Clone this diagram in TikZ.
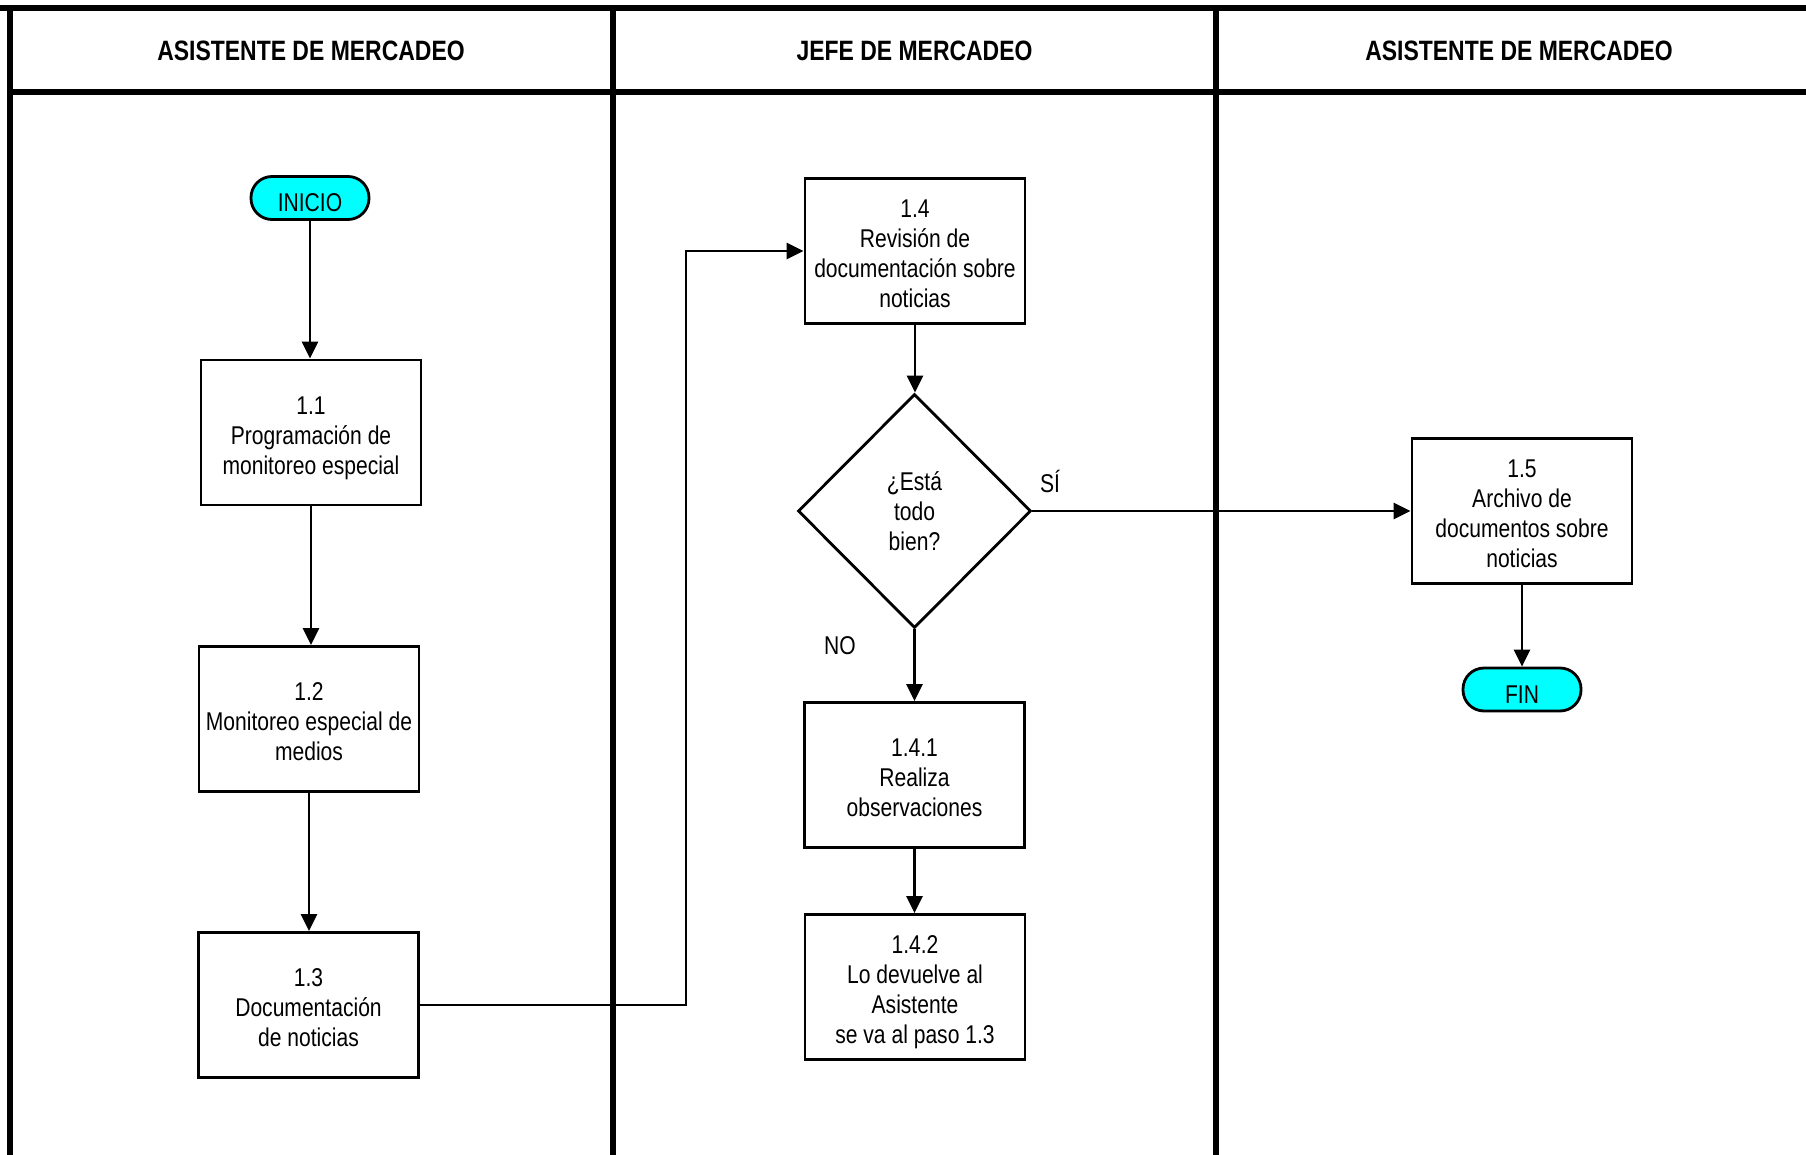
\documentclass[tikz,border=0pt]{standalone}
\usepackage{fontspec}
\setmainfont{Liberation Sans}[FakeStretch=0.82]
\usetikzlibrary{shapes.geometric,arrows.meta}
\definecolor{termfill}{RGB}{0,255,255}
% step text: centred lines with a little extra room above the first one
\newcommand\steptext[1]{\begin{tabular}{@{}c@{}}\rule{0pt}{32pt}#1\end{tabular}}

\begin{document}
\begin{tikzpicture}[x=1pt,y=-1pt,
  lane/.style={line width=6pt},
  head/.style={font=\fontsize{28}{32}\selectfont\bfseries},
  body/.style={font=\fontsize{25.7}{30}\selectfont},
  proc/.style={body, draw, line width=2.8pt, minimum width=220pt, minimum height=145pt, inner sep=2pt},
  term/.style={body, execute at begin node={\rule{0pt}{27pt}}, draw, line width=2.8pt, fill=termfill, rounded corners=21pt, minimum width=118pt, minimum height=43pt, inner sep=1pt},
  decide/.style={body, draw, line width=2.8pt, diamond, minimum width=233pt, minimum height=234pt, align=center, inner sep=0pt},
  arr/.style={line width=2.6pt, -{Triangle[length=17pt,width=16pt]}},
  lbl/.style={body}
]
\useasboundingbox (0,0) rectangle (1806,1155);

% swimlane frame
\draw[lane] (0,8) -- (1806,8);
\draw[lane] (10,8) -- (10,1155);
\draw[lane] (10,92) -- (1806,92);
\draw[lane] (613,8) -- (613,1155);
\draw[lane] (1216,8) -- (1216,1155);

% lane titles
\node[head] (h1) at (311,51) {ASISTENTE DE MERCADEO};
\node[head] (h2) at (914.5,51) {JEFE DE MERCADEO};
\node[head] (h3) at (1519,51) {ASISTENTE DE MERCADEO};

% steps
\node[term] (inicio) at (310,198) {INICIO};
\node[proc] (p11) at (311,432.5) {\steptext{1.1\\Programación de\\monitoreo especial}};
\node[proc] (p12) at (309,719) {\steptext{1.2\\Monitoreo especial de\\medios}};
\node[proc] (p13) at (308.5,1005) {\steptext{1.3\\Documentación\\de noticias}};
\node[proc] (p14) at (915,251) {\steptext{1.4\\Revisión de\\documentación sobre\\noticias}};
\node[decide] (dec) at (914.5,511) {¿Está\\todo\\bien?};
\node[proc] (p141) at (914.5,775) {\steptext{1.4.1\\Realiza\\observaciones}};
\node[proc] (p142) at (915,987) {\steptext{1.4.2\\Lo devuelve al\\Asistente\\se va al paso 1.3}};
\node[proc] (p15) at (1522,511) {\steptext{1.5\\Archivo de\\documentos sobre\\noticias}};
\node[term] (fin) at (1522,689.5) {FIN};

% branch labels
\node[lbl] (si) at (1050,481) {SÍ};
\node[lbl] (no) at (840,646) {NO};

% connectors
\coordinate (elbow) at (686,0);
\draw[arr] (inicio.south) -- (inicio.south |- p11.north);
\draw[arr] (p11.south) -- (p11.south |- p12.north);
\draw[arr] (p12.south) -- (p12.south |- p13.north);
\draw[arr] (p13.east) -- (p13.east -| elbow) |- (p14.west);
\draw[arr] (p14.south) -- (p14.south |- dec.north);
\draw[arr] (dec.south) -- (dec.south |- p141.north);
\draw[arr] (p141.south) -- (p141.south |- p142.north);
\draw[arr] (dec.east) -- (dec.east -| p15.west);
\draw[arr] (p15.south) -- (p15.south |- fin.north);
\end{tikzpicture}
\end{document}
